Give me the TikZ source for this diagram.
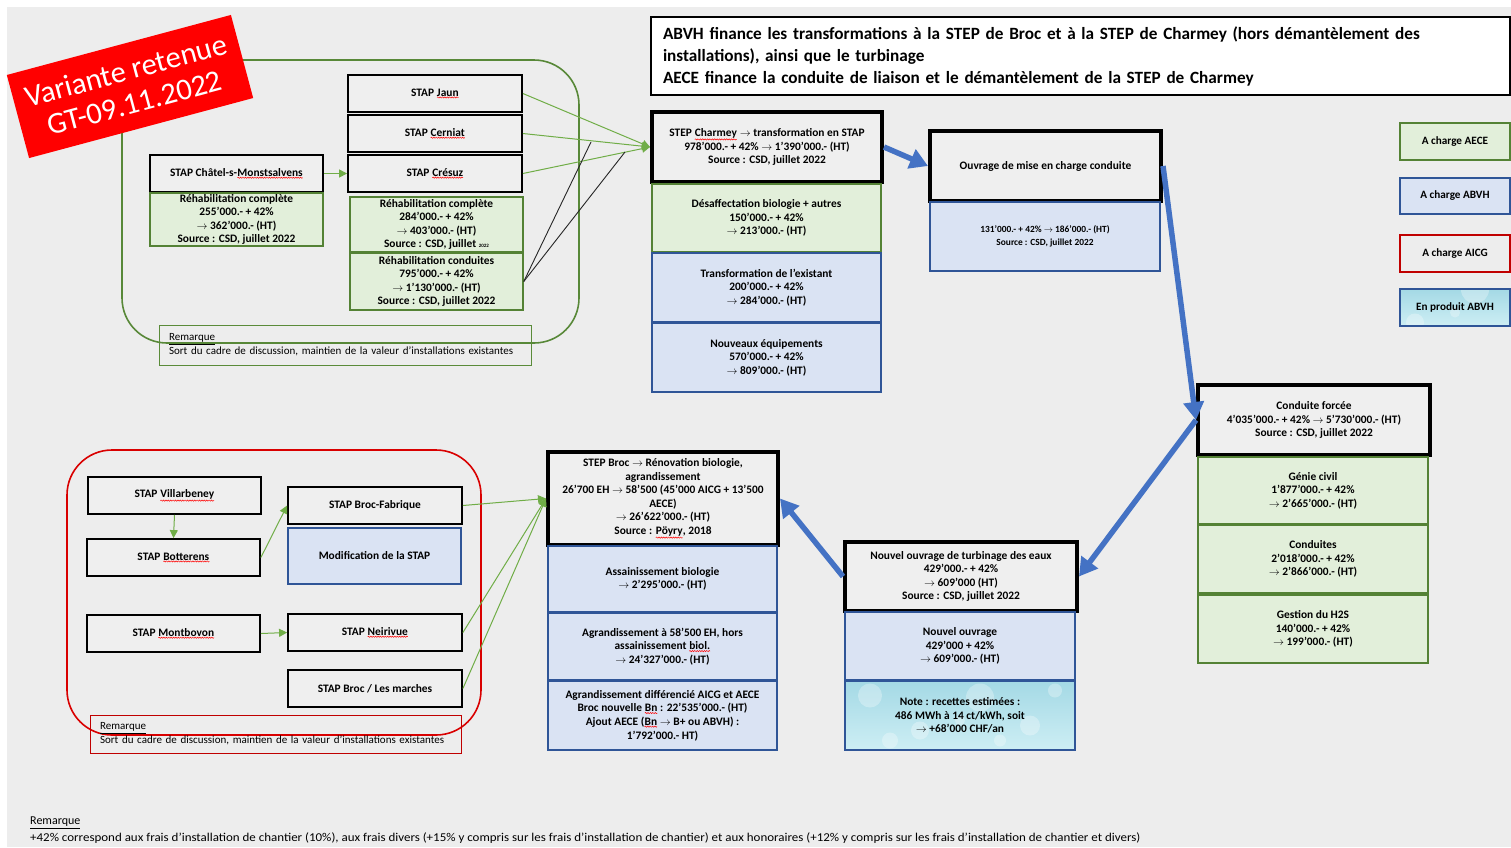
\documentclass[tikz,border=0pt]{standalone}
\usepackage{fontspec}
\setmainfont{Carlito}
\usetikzlibrary{arrows.meta,decorations.pathmorphing}
\definecolor{bgc}{HTML}{EDEDED}
\definecolor{boxg}{HTML}{EFEFEF}
\definecolor{grnf}{HTML}{E2EFDA}
\definecolor{grnb}{HTML}{548235}
\definecolor{bluf}{HTML}{DAE3F3}
\definecolor{blub}{HTML}{2F5597}
\definecolor{arrg}{HTML}{70AD47}
\definecolor{arrb}{HTML}{4472C4}
\definecolor{redb}{HTML}{C00000}
\definecolor{aqua1}{HTML}{A4D9E5}
\definecolor{aqua2}{HTML}{CDEEF4}
\newcommand\sq[1]{\tikz[baseline=(w.base)]{\node[inner sep=0pt, outer sep=0pt, minimum width=0pt, minimum height=0pt, draw=none, fill=none, line width=0.4pt, shape=rectangle](w){#1};\draw[red, line width=0.5pt, decorate, decoration={snake, amplitude=0.6pt, segment length=2.4pt}] ([yshift=-1.2pt]w.south west) -- ([yshift=-1.2pt]w.south east);}}
\newcommand\ra{$\rightarrow$}
\newcommand\bx[7]{\node[#6, minimum width={(#4-#2)*1pt}, minimum height={(#5-#3)*1pt}] (#1) at ({(#2+#4)/2},{(#3+#5)/2}) {#7};}
\tikzset{
  txt/.style={font=\fontsize{11.4}{13.6}\selectfont\bfseries, align=center, inner sep=0pt},
  stap/.style={txt, draw=black, line width=1.8pt, fill=boxg},
  stepbx/.style={stap, line width=4pt},
  grn/.style={txt, draw=grnb, line width=1.5pt, fill=grnf},
  blu/.style={txt, draw=blub, line width=1.5pt, fill=bluf},
  water/.style={txt, draw=blub, line width=1.5pt, top color=aqua1, bottom color=aqua2,
    path picture={\foreach \dx/\dy/\r in {-90/-20/12,-40/15/9,20/-18/14,70/10/10,95/-25/7,-70/25/8,40/25/6,0/5/5}
      {\fill[white,opacity=.3] ([shift={(\dx,\dy)}]path picture bounding box.center) circle[radius=\r];}}},
  legtxt/.style={font=\fontsize{11.2}{13}\selectfont\bfseries},
  remk/.style={draw=#1, line width=1pt, align=left, inner xsep=10pt, inner ysep=1pt,
    font=\fontsize{11}{14}\selectfont},
  garr/.style={draw=arrg, line width=1pt, -{Triangle[length=8pt,width=8pt]}},
  barr/.style={draw=arrb, line width=5.5pt, -{Triangle[length=18pt,width=20pt]}},
  blk/.style={draw=black!85, line width=0.9pt}
}
\begin{document}
\begin{tikzpicture}[x=1pt,y=-1pt]
\useasboundingbox (0,0) rectangle (1511,847);
\fill[white] (0,0) rectangle (1511,847);
\fill[bgc] (7,7) rectangle (1511,847);

% group outlines
\draw[grnb!85!arrg, line width=1.6pt, rounded corners=45pt] (122,60) rectangle (579,343);
\draw[red!85!black, line width=1.6pt, rounded corners=45pt] (67,450) rectangle (481,735);

% header
\bx{hdr}{651}{17}{1510}{95}{draw=black, line width=1.3pt, fill=white, align=left, text width=835pt, inner xsep=12pt, inner ysep=0pt, font=\fontsize{17.2}{22}\selectfont\bfseries}{ABVH finance les transformations à la STEP de Broc et à la STEP de Charmey (hors démantèlement des\\installations), ainsi que le turbinage\\AECE finance la conduite de liaison et le démantèlement de la STEP de Charmey}

% top-left group
\bx{jaun}{348}{75}{522}{112}{stap}{STAP \sq{Jaun}}
\bx{cerniat}{348}{115}{522}{152}{stap}{STAP \sq{Cerniat}}
\bx{cresuz}{348}{155}{522}{192}{stap}{STAP \sq{Crésuz}}
\bx{chatel}{150}{155}{323}{192}{stap}{STAP Châtel-s-\sq{Monstsalvens}}
\bx{rehchatel}{150}{193}{323}{246}{grn}{Réhabilitation complète\\255’000.- + 42\%\\\ra{} 362’000.- (HT)\\Source : CSD, juillet 2022}
\bx{reh1}{350}{197}{523}{252}{grn}{Réhabilitation complète\\284’000.- + 42\%\\\ra{} 403’000.- (HT)\\Source : CSD, juillet {\fontsize{5}{6}\selectfont 2022}}
\bx{reh2}{350}{253}{523}{310}{grn}{Réhabilitation conduites\\795’000.- + 42\%\\\ra{} 1’130’000.- (HT)\\Source : CSD, juillet 2022}
\bx{rem1}{159}{325}{531}{365}{remk=grnb!80!arrg, text width=352pt}{\underline{Remarque}\\Sort du cadre de discussion, maintien de la valeur d’installations existantes}

% STEP Charmey
\bx{charmey}{652}{112}{882}{182}{stepbx}{STEP \sq{Charmey} \ra{} transformation en STAP\\978’000.- + 42\% \ra{} 1’390’000.- (HT)\\Source : CSD, juillet 2022}
\bx{desaf}{652}{184}{881}{252}{grn}{Désaffectation biologie + autres\\150’000.- + 42\%\\\ra{} 213’000.- (HT)}
\bx{transf}{652}{253}{881}{322}{blu}{Transformation de l’existant\\200’000.- + 42\%\\\ra{} 284’000.- (HT)}
\bx{equip}{652}{323}{881}{392}{blu}{Nouveaux équipements\\570’000.- + 42\%\\\ra{} 809’000.- (HT)}

% Ouvrage
\bx{ouvrage}{930}{131}{1161}{201}{stepbx}{Ouvrage de mise en charge conduite}
\bx{ouvblue}{930}{202}{1160}{271}{blu, font=\fontsize{9.4}{12.5}\selectfont\bfseries}{131’000.- + 42\% \ra{} 186’000.- (HT)\\Source : CSD, juillet 2022}

% legend
\bx{legA}{1400}{123}{1510}{160}{grn, legtxt}{A charge AECE}
\bx{legB}{1400}{178}{1510}{214}{blu, legtxt}{A charge ABVH}
\bx{legC}{1400}{235}{1510}{272}{txt, draw=redb, line width=1.5pt, fill=bgc, legtxt}{A charge AICG}
\bx{legD}{1400}{289}{1510}{326}{water, legtxt}{En produit ABVH}

% Conduite forcee
\bx{cond}{1198}{385}{1430}{455}{stepbx}{Conduite forcée\\4’035’000.- + 42\% \ra{} 5’730’000.- (HT)\\Source : CSD, juillet 2022}
\bx{genie}{1198}{457}{1428}{524}{grn}{Génie civil\\1’877’000.- + 42\%\\\ra{} 2’665’000.- (HT)}
\bx{conduites}{1198}{525}{1428}{593}{grn}{Conduites\\2’018’000.- + 42\%\\\ra{} 2’866’000.- (HT)}
\bx{htwos}{1198}{595}{1428}{663}{grn}{Gestion du H2S\\140’000.- + 42\%\\\ra{} 199’000.- (HT)}

% Turbinage
\bx{nouvel}{845}{542}{1077}{611}{stepbx}{Nouvel ouvrage de turbinage des eaux\\429’000.- + 42\%\\\ra{} 609’000 (HT)\\Source : CSD, juillet 2022}
\bx{nouvblue}{845}{612}{1075}{680}{blu}{Nouvel ouvrage\\429’000 + 42\%\\\ra{} 609’000.- (HT)}
\bx{note}{845}{681}{1075}{750}{water}{Note : recettes estimées :\\486 MWh à 14 ct/kWh, soit\\\ra{} +68’000 CHF/an}

% STEP Broc
\bx{broc}{548}{452}{778}{545}{stepbx}{STEP Broc \ra{} Rénovation biologie,\\agrandissement\\26’700 EH \ra{} 58’500 (45’000 AICG + 13’500\\AECE)\\\ra{} 26’622’000.- (HT)\\Source : \sq{Pöyry}, 2018}
\bx{assain}{548}{546}{777}{612}{blu}{Assainissement biologie\\\ra{} 2’295’000.- (HT)}
\bx{agrand}{548}{613}{777}{680}{blu}{Agrandissement à 58’500 EH, hors\\assainissement \sq{biol.}\\\ra{} 24’327’000.- (HT)}
\bx{agrdiff}{548}{681}{777}{750}{blu}{Agrandissement différencié AICG et AECE\\Broc nouvelle \sq{Bn} : 22’535’000.- (HT)\\Ajout AECE (\sq{Bn} \ra{} B+ ou ABVH) :\\1’792’000.- HT)}

% bottom-left group
\bx{villar}{88}{477}{261}{514}{stap}{STAP \sq{Villarbeney}}
\bx{botter}{87}{539}{260}{576}{stap}{STAP \sq{Botterens}}
\bx{brocfab}{288}{487}{462}{524}{stap}{STAP Broc-Fabrique}
\bx{modif}{288}{528}{461}{584}{blu}{Modification de la STAP}
\bx{montb}{87}{615}{260}{652}{stap}{STAP \sq{Montbovon}}
\bx{neiri}{288}{614}{462}{651}{stap}{STAP \sq{Neirivue}}
\bx{marches}{288}{670}{462}{707}{stap}{STAP Broc / Les marches}
\bx{rem2}{90}{715}{461}{753}{remk=redb, text width=351pt}{\underline{Remarque}\\Sort du cadre de discussion, maintien de la valeur d’installations existantes}

% green connectors
\draw[garr] (chatel.east) -- (cresuz.west);
\draw[garr] (jaun.east) -- (charmey.west);
\draw[garr] (cerniat.east) -- (charmey.west);
\draw[garr] (cresuz.east) -- (charmey.west);
\draw[garr] (villar.south) -- (botter.north);
\draw[garr] (botter.east) -- (brocfab.west);
\draw[garr] (montb.east) -- (neiri.west);
\draw[garr] (brocfab.east) -- (broc.west);
\draw[garr] (neiri.east) -- (broc.west);
\draw[garr] (marches.east) -- (broc.west);

% black lines
\coordinate (bk1) at (591,142);
\coordinate (bk2) at (625,152);
\draw[blk] (reh2.east) -- (bk1);
\draw[blk] (reh2.east) -- (bk2);

% blue arrows
\draw[barr] (charmey.east) -- (ouvrage.west);
\draw[barr] (ouvrage.east) -- (cond.west);
\draw[barr] (cond.west) -- (nouvel.east);
\draw[barr] (nouvel.west) -- (broc.east);

% red label
\node[fill=red, text=white, rotate=15, minimum width=232pt, minimum height=86pt, align=center,
  font=\fontsize{30.5}{33}\selectfont, inner sep=0pt] (label) at (130,86.5) {Variante retenue\\GT-09.11.2022};

% bottom remark
\node[anchor=west, inner sep=0pt, font=\fontsize{12}{14}\selectfont] (remb) at (30,823) {\underline{Remarque}};
\node[anchor=west, inner sep=0pt, font=\fontsize{12}{14}\selectfont] (remtxt) at (30,838) {\scalebox{1.08}[1]{+42\% correspond aux frais d’installation de chantier (10\%), aux frais divers (+15\% y compris sur les frais d’installation de chantier) et aux honoraires (+12\% y compris sur les frais d’installation de chantier et divers)}};
\end{tikzpicture}
\end{document}
